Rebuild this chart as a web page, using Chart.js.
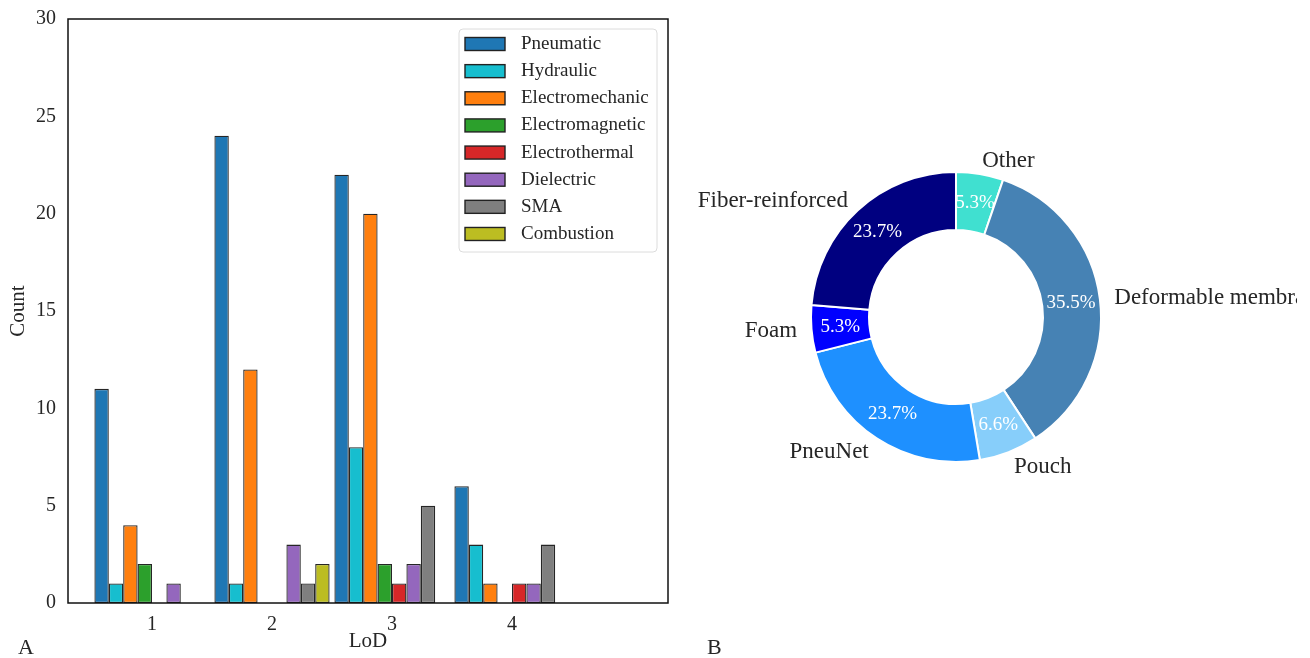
<!DOCTYPE html>
<html>
<head>
<meta charset="utf-8">
<script src="https://cdn.jsdelivr.net/npm/chart.js@4.4.1/dist/chart.umd.min.js"></script>
<style>
  body { margin: 0; background: #fff; width: 1310px; height: 658px; overflow: hidden; position: relative; font-family: 'Liberation Serif', serif; }
  #barChart { position: absolute; left: 0; top: 0; }
  #pieChart { position: absolute; left: 690px; top: 0; }
  .panel { position: absolute; font-size: 22px; line-height: 22px; color: #262626; }
</style>
</head>
<body>
<canvas id="barChart" width="690" height="658"></canvas>
<canvas id="pieChart" width="607" height="658"></canvas>
<div class="panel" style="left:18px; top:636px">A</div>
<div class="panel" style="left:707px; top:636px">B</div>
<script>
// panel A: actuation type count per level of detail
const lod = [1, 2, 3, 4];
const pneumatic = [11, 24, 22, 6];
const hydraulic = [1, 1, 8, 3];
const electromechanic = [4, 12, 20, 1];
const electromagnetic = [2, 0, 2, 0];
const electrothermal = [0, 0, 1, 1];
const dielectric = [1, 3, 2, 1];
const sma = [0, 1, 5, 3];
const combustion = [0, 2, 0, 0];
const yTicks = [0, 5, 10, 15, 20, 25, 30];

// panel B: design types
const designLabels = ['Other', 'Deformable membrane', 'Pouch', 'PneuNet', 'Foam', 'Fiber-reinforced'];
const designCounts = [4, 27, 5, 18, 4, 18];

const FONT = "'Liberation Serif', 'Times New Roman', serif";
const TEXT = '#262626';

const series = [
  ['Pneumatic', pneumatic, '#1f77b4'],
  ['Hydraulic', hydraulic, '#17becf'],
  ['Electromechanic', electromechanic, '#ff7f0e'],
  ['Electromagnetic', electromagnetic, '#2ca02c'],
  ['Electrothermal', electrothermal, '#d62728'],
  ['Dielectric', dielectric, '#9467bd'],
  ['SMA', sma, '#7f7f7f'],
  ['Combustion', combustion, '#bcbd22']
];

const frame = {
  id: 'frame',
  afterDatasetsDraw(chart) {
    const a = chart.chartArea, ctx = chart.ctx;
    ctx.save();
    ctx.strokeStyle = '#111';
    ctx.lineWidth = 1.5;
    ctx.strokeRect(a.left, a.top, a.right - a.left, a.bottom - a.top);
    ctx.restore();
  }
};

const boxLegend = {
  id: 'boxLegend',
  afterDraw(chart) {
    const a = chart.chartArea, ctx = chart.ctx;
    const w = 198, h = 223;
    const x0 = a.right - 11 - w, y0 = a.top + 10;
    ctx.save();
    ctx.beginPath();
    ctx.roundRect(x0, y0, w, h, 4);
    ctx.fillStyle = 'rgba(255,255,255,0.9)';
    ctx.fill();
    ctx.strokeStyle = '#dcdcdc';
    ctx.lineWidth = 1;
    ctx.stroke();
    ctx.font = '19px ' + FONT;
    ctx.textBaseline = 'middle';
    ctx.textAlign = 'left';
    chart.data.datasets.forEach((ds, i) => {
      const cy = y0 + 15 + i * 27.14;
      ctx.fillStyle = ds.backgroundColor;
      ctx.fillRect(x0 + 6, cy - 6.5, 40, 13);
      ctx.strokeStyle = '#222';
      ctx.lineWidth = 1.4;
      ctx.strokeRect(x0 + 6, cy - 6.5, 40, 13);
      ctx.fillStyle = TEXT;
      ctx.fillText(ds.label, x0 + 62, cy);
    });
    ctx.restore();
  }
};

new Chart(document.getElementById('barChart'), {
  type: 'bar',
  data: {
    labels: lod,
    datasets: series.map(([name, vals, color]) => ({
      label: name,
      data: vals,
      backgroundColor: color,
      borderColor: 'rgba(0,0,0,0.85)',
      borderWidth: 1.3,
      borderSkipped: false,
      categoryPercentage: 0.96,
      barPercentage: 1.0
    }))
  },
  options: {
    responsive: false,
    animation: false,
    layout: { padding: { top: 19, right: 22, left: 0, bottom: 0 } },
    plugins: { legend: { display: false }, tooltip: { enabled: false } },
    scales: {
      x: {
        type: 'linear',
        min: 0.3,
        max: 5.3,
        offset: false,
        grid: { display: false, drawTicks: false },
        border: { display: false },
        afterBuildTicks(s) { s.ticks = lod.map(v => ({ value: v })); },
        afterFit(s) { s.height = 55; },
        ticks: { padding: 10, color: TEXT, font: { family: FONT, size: 20 }, callback: v => String(v) },
        title: { display: true, text: 'LoD', color: TEXT, font: { family: FONT, size: 21 }, padding: { top: 0, bottom: 4 } }
      },
      y: {
        min: 0,
        max: 30,
        grid: { display: false, drawTicks: false },
        border: { display: false },
        afterBuildTicks(s) { s.ticks = yTicks.map(v => ({ value: v })); },
        afterFit(s) { s.width = 68; s.paddingTop = 0; s.paddingBottom = 0; },
        ticks: { padding: 12, color: TEXT, font: { family: FONT, size: 20 }, callback: v => String(v) },
        title: { display: true, text: 'Count', color: TEXT, font: { family: FONT, size: 21 }, padding: { top: 6, bottom: 0 } }
      }
    }
  },
  plugins: [frame, boxLegend]
});

const total = designCounts.reduce((s, v) => s + v, 0);

const pieLabels = {
  id: 'pieLabels',
  afterDatasetsDraw(chart) {
    const ctx = chart.ctx;
    const meta = chart.getDatasetMeta(0);
    ctx.save();
    ctx.textBaseline = 'middle';
    meta.data.forEach((arc, i) => {
      const p = arc.getProps(['x', 'y', 'startAngle', 'endAngle', 'outerRadius'], true);
      const mid = (p.startAngle + p.endAngle) / 2;
      const c = Math.cos(mid), s = Math.sin(mid);
      ctx.font = '23px ' + FONT;
      ctx.fillStyle = TEXT;
      ctx.textAlign = c >= 0 ? 'left' : 'right';
      ctx.fillText(chart.data.labels[i], p.x + c * p.outerRadius * 1.1, p.y + s * p.outerRadius * 1.1 + 1);
      ctx.font = '19px ' + FONT;
      ctx.fillStyle = '#fff';
      ctx.textAlign = 'center';
      const pct = (designCounts[i] / total * 100).toFixed(1) + '%';
      ctx.fillText(pct, p.x + c * p.outerRadius * 0.8, p.y + s * p.outerRadius * 0.8);
    });
    ctx.restore();
  }
};

new Chart(document.getElementById('pieChart'), {
  type: 'doughnut',
  data: {
    labels: designLabels,
    datasets: [{
      data: designCounts,
      backgroundColor: ['#40e0d0', '#4682b4', '#87cefa', '#1e90ff', '#0000ff', '#000080'],
      borderColor: '#fff',
      borderWidth: 2
    }]
  },
  options: {
    responsive: false,
    animation: false,
    cutout: '60%',
    layout: { padding: { left: 120, top: 171, right: 195, bottom: 195 } },
    plugins: { legend: { display: false }, tooltip: { enabled: false } }
  },
  plugins: [pieLabels]
});
</script>
</body>
</html>
